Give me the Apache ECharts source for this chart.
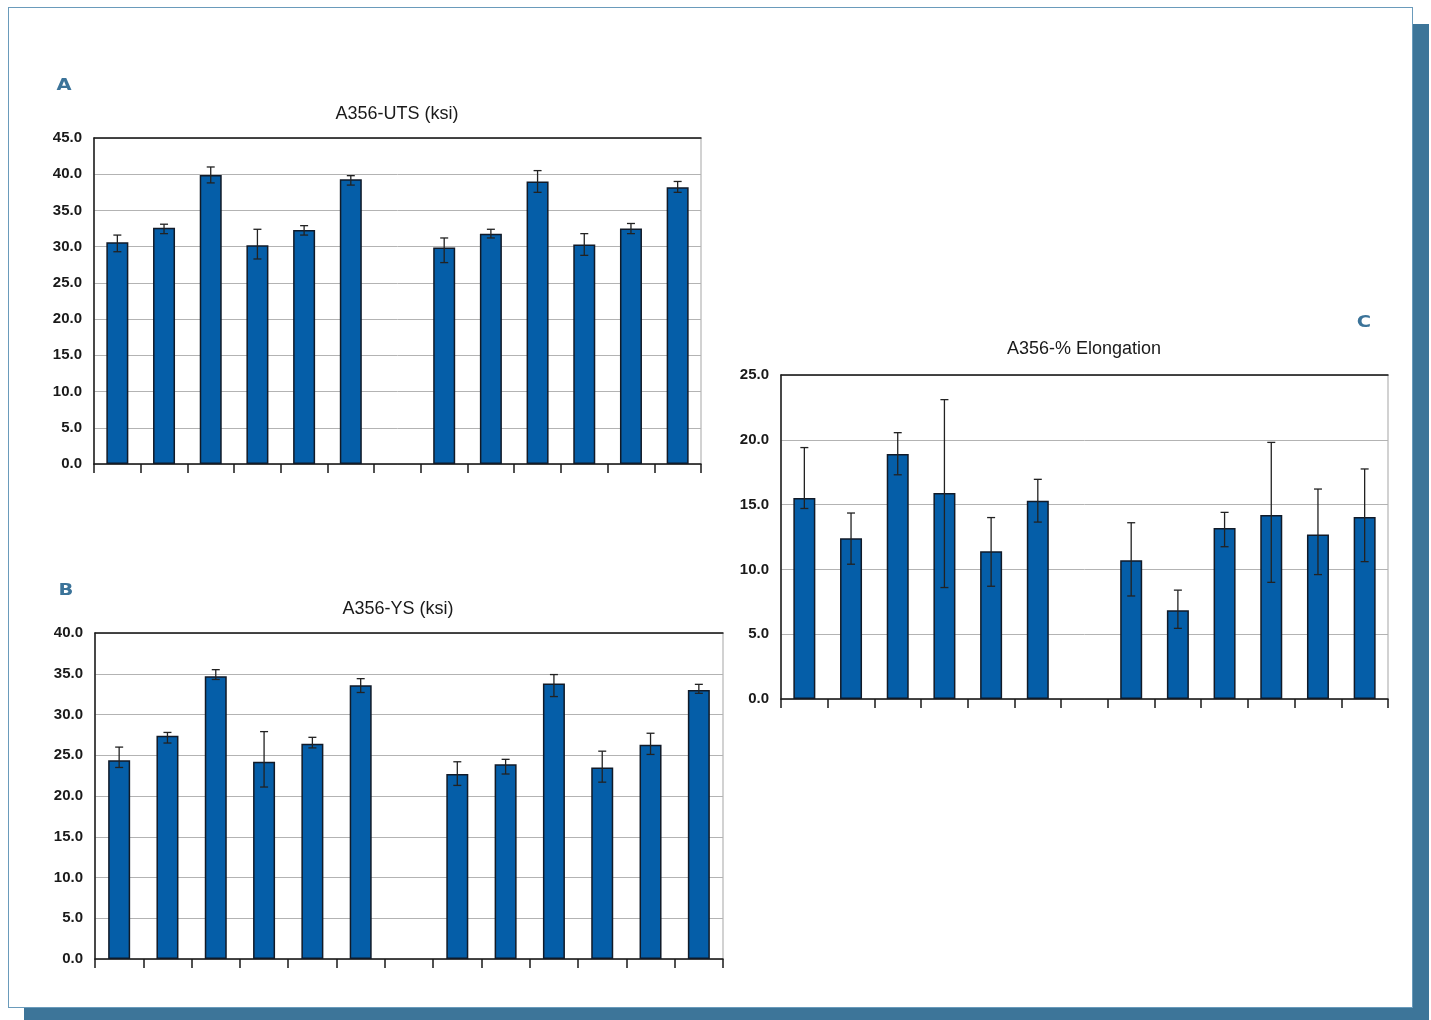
<!DOCTYPE html>
<html>
<head>
<meta charset="utf-8">
<script src="https://cdn.jsdelivr.net/npm/echarts@6/dist/echarts.min.js"></script>
<style>
  html, body { margin:0; padding:0; background:#ffffff; width:1431px; height:1020px; overflow:hidden; }
  #frame { position:absolute; left:8px; top:7px; width:1403px; height:999px; border:1.5px solid #6a9bbb; background:#fff; box-shadow:16px 17px 0 0 #3d7599; }
  #chart { position:absolute; left:0; top:0; width:1431px; height:1020px; }
</style>
</head>
<body>
<div id="frame"></div>
<div id="chart"></div>
<script>
// ---- data ----
const categories = ['c1','c2','c3','c4','c5','c6','gap','c8','c9','c10','c11','c12','c13'];

const utsMean = [30.6, 32.6, 39.9, 30.2, 32.3, 39.3, null, 29.9, 31.8, 39.0, 30.3, 32.5, 38.2];
const utsLow  = [29.3, 31.8, 38.8, 28.3, 31.6, 38.5, null, 27.8, 31.2, 37.5, 28.8, 31.8, 37.5];
const utsHigh = [31.6, 33.1, 41.0, 32.4, 32.9, 39.8, null, 31.2, 32.4, 40.5, 31.8, 33.2, 39.0];

const ysMean = [24.4, 27.4, 34.7, 24.2, 26.4, 33.6, null, 22.7, 23.9, 33.8, 23.5, 26.3, 33.0];
const ysLow  = [23.5, 26.5, 34.3, 21.1, 25.9, 32.7, null, 21.3, 22.7, 32.2, 21.7, 25.1, 32.6];
const ysHigh = [26.0, 27.8, 35.5, 27.9, 27.2, 34.4, null, 24.2, 24.5, 34.9, 25.5, 27.7, 33.7];

const elMean = [15.5, 12.4, 18.9, 15.9, 11.4, 15.3, null, 10.7, 6.85, 13.2, 14.2, 12.7, 14.05];
const elLow  = [14.7, 10.4, 17.3, 8.6, 8.7, 13.65, null, 7.95, 5.45, 11.75, 9.0, 9.6, 10.6];
const elHigh = [19.4, 14.35, 20.55, 23.1, 14.0, 16.95, null, 13.6, 8.4, 14.4, 19.8, 16.2, 17.75];

const titles = ['A356-UTS (ksi)', 'A356-YS (ksi)', 'A356-% Elongation'];
const panelLetters = ['A', 'B', 'C'];
const yMax = [45, 40, 25];
const yInterval = 5;

// ---- layout/style ----
const grids = [
  {left:94, top:138, width:607, height:326},
  {left:95, top:633, width:628, height:326},
  {left:781, top:375, width:607, height:324}
];
const titlePos = [[397, 114], [398, 609], [1084, 349]];
const letterPos = [[64, 86], [66, 591], [1364, 323]];

const dark = '#1a1a1a';
const barColor = '#055ea8';

const chart = echarts.init(document.getElementById('chart'), null, {renderer:'canvas'});

const xAxes = [], yAxes = [], series = [], graphics = [];
const means = [utsMean, ysMean, elMean], lows = [utsLow, ysLow, elLow], highs = [utsHigh, ysHigh, elHigh];

grids.forEach((g, i) => {
  Object.assign(g, {show:true, borderColor:'#a5a5a5', borderWidth:1, backgroundColor:'transparent'});
  xAxes.push({
    type:'category', gridIndex:i, data:categories, position:'bottom', boundaryGap:true,
    axisLine:{show:true, onZero:false, lineStyle:{color:dark, width:1.5}},
    axisTick:{show:true, length:9, inside:false, lineStyle:{color:dark, width:1.5}},
    axisLabel:{show:false}, splitLine:{show:false}
  });
  xAxes.push({
    type:'value', gridIndex:i, position:'top', min:0, max:1,
    axisLine:{show:true, onZero:false, lineStyle:{color:dark, width:1.5}},
    axisTick:{show:false}, axisLabel:{show:false}, splitLine:{show:false}
  });
  yAxes.push({
    type:'value', gridIndex:i, min:0, max:yMax[i], interval:yInterval,
    axisLine:{show:true, onZero:false, lineStyle:{color:dark, width:1.5}},
    axisTick:{show:false},
    axisLabel:{show:true, margin:12, color:'#1a1a1a', fontSize:15, fontWeight:'bold', fontFamily:'Liberation Sans, Arial, sans-serif',
      formatter: v => v.toFixed(1)},
    splitLine:{show:true, lineStyle:{color:'#b3b3b3', width:1}}
  });
  series.push({
    type:'bar', xAxisIndex:i*2, yAxisIndex:i, data:means[i], barWidth:22,
    itemStyle:{color:barColor, borderColor:'#111a28', borderWidth:1.5}, z:2, silent:true
  });
  const errData = [];
  means[i].forEach((m, k) => { if (m != null) errData.push([k, lows[i][k], highs[i][k]]); });
  series.push({
    type:'custom', xAxisIndex:i*2, yAxisIndex:i, data:errData, z:5, silent:true,
    encode:{x:0, y:[1,2]},
    renderItem:(params, api) => {
      const x = api.value(0);
      const lo = api.coord([x, api.value(1)]);
      const hi = api.coord([x, api.value(2)]);
      const h = 4;
      const st = {stroke:'#222222', lineWidth:1.3};
      return {type:'group', children:[
        {type:'line', shape:{x1:hi[0], y1:hi[1], x2:lo[0], y2:lo[1]}, style:st},
        {type:'line', shape:{x1:hi[0]-h, y1:hi[1], x2:hi[0]+h, y2:hi[1]}, style:st},
        {type:'line', shape:{x1:lo[0]-h, y1:lo[1], x2:lo[0]+h, y2:lo[1]}, style:st}
      ]};
    }
  });
  graphics.push({
    type:'text', x:titlePos[i][0], y:titlePos[i][1],
    style:{text:titles[i], fill:'#1a1a1a', font:'18px Liberation Sans, Arial, sans-serif', textAlign:'center', textVerticalAlign:'middle'}
  });
  graphics.push({
    type:'text', x:letterPos[i][0], y:letterPos[i][1], scaleX:1.3,
    style:{text:panelLetters[i], fill:'#3b7399', font:'bold 15px DejaVu Sans, sans-serif', textAlign:'center', textVerticalAlign:'middle'}
  });
});

chart.setOption({
  animation:false,
  backgroundColor:'transparent',
  grid:grids,
  xAxis:xAxes,
  yAxis:yAxes,
  series:series,
  graphic:graphics
});
</script>
</body>
</html>
